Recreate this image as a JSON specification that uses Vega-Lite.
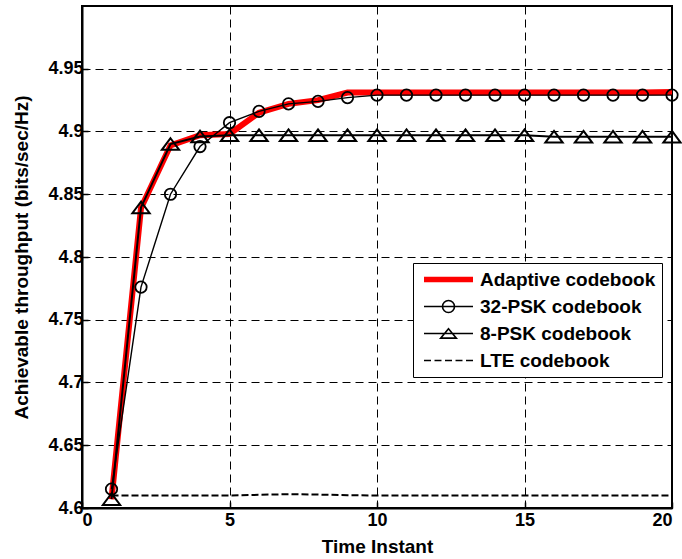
{
  "$schema": "https://vega.github.io/schema/vega-lite/v6.json",
  "width": 590,
  "height": 502,
  "autosize": "none",
  "padding": {"left": 82, "top": 6, "right": 10, "bottom": 51},
  "background": "white",
  "config": {
    "font": "Liberation Sans",
    "view": {"stroke": "black", "strokeWidth": 2},
    "axis": {
      "labelFont": "Liberation Sans", "labelFontWeight": "bold", "labelFontSize": 18, "labelColor": "black",
      "titleFont": "Liberation Sans", "titleFontWeight": "bold", "titleFontSize": 19, "titleColor": "black",
      "domainColor": "black", "domainWidth": 2,
      "tickColor": "black", "tickWidth": 1.5, "tickSize": -6,
      "gridColor": "black", "gridDash": [8, 5], "gridWidth": 1, "gridOpacity": 1
    }
  },
  "data": {
    "values": [
      {"s": "Adaptive codebook", "t": 1, "v": 4.607}, {"s": "Adaptive codebook", "t": 2, "v": 4.839}, {"s": "Adaptive codebook", "t": 3, "v": 4.889}, {"s": "Adaptive codebook", "t": 4, "v": 4.897}, {"s": "Adaptive codebook", "t": 5, "v": 4.898},
      {"s": "Adaptive codebook", "t": 6, "v": 4.915}, {"s": "Adaptive codebook", "t": 7, "v": 4.922}, {"s": "Adaptive codebook", "t": 8, "v": 4.925}, {"s": "Adaptive codebook", "t": 9, "v": 4.931}, {"s": "Adaptive codebook", "t": 10, "v": 4.931},
      {"s": "Adaptive codebook", "t": 11, "v": 4.931}, {"s": "Adaptive codebook", "t": 12, "v": 4.931}, {"s": "Adaptive codebook", "t": 13, "v": 4.931}, {"s": "Adaptive codebook", "t": 14, "v": 4.931}, {"s": "Adaptive codebook", "t": 15, "v": 4.931},
      {"s": "Adaptive codebook", "t": 16, "v": 4.931}, {"s": "Adaptive codebook", "t": 17, "v": 4.931}, {"s": "Adaptive codebook", "t": 18, "v": 4.931}, {"s": "Adaptive codebook", "t": 19, "v": 4.931}, {"s": "Adaptive codebook", "t": 20, "v": 4.9315},
      {"s": "LTE codebook", "t": 1, "v": 4.61}, {"s": "LTE codebook", "t": 2, "v": 4.61}, {"s": "LTE codebook", "t": 3, "v": 4.61}, {"s": "LTE codebook", "t": 4, "v": 4.61}, {"s": "LTE codebook", "t": 5, "v": 4.61},
      {"s": "LTE codebook", "t": 6, "v": 4.6105}, {"s": "LTE codebook", "t": 7, "v": 4.611}, {"s": "LTE codebook", "t": 8, "v": 4.6107}, {"s": "LTE codebook", "t": 9, "v": 4.6102}, {"s": "LTE codebook", "t": 10, "v": 4.61},
      {"s": "LTE codebook", "t": 11, "v": 4.61}, {"s": "LTE codebook", "t": 12, "v": 4.61}, {"s": "LTE codebook", "t": 13, "v": 4.61}, {"s": "LTE codebook", "t": 14, "v": 4.61}, {"s": "LTE codebook", "t": 15, "v": 4.61},
      {"s": "LTE codebook", "t": 16, "v": 4.61}, {"s": "LTE codebook", "t": 17, "v": 4.61}, {"s": "LTE codebook", "t": 18, "v": 4.61}, {"s": "LTE codebook", "t": 19, "v": 4.61}, {"s": "LTE codebook", "t": 20, "v": 4.61},
      {"s": "32-PSK codebook", "t": 1, "v": 4.615}, {"s": "32-PSK codebook", "t": 2, "v": 4.776}, {"s": "32-PSK codebook", "t": 3, "v": 4.85}, {"s": "32-PSK codebook", "t": 4, "v": 4.888}, {"s": "32-PSK codebook", "t": 5, "v": 4.907},
      {"s": "32-PSK codebook", "t": 6, "v": 4.916}, {"s": "32-PSK codebook", "t": 7, "v": 4.922}, {"s": "32-PSK codebook", "t": 8, "v": 4.924}, {"s": "32-PSK codebook", "t": 9, "v": 4.927}, {"s": "32-PSK codebook", "t": 10, "v": 4.929},
      {"s": "32-PSK codebook", "t": 11, "v": 4.929}, {"s": "32-PSK codebook", "t": 12, "v": 4.929}, {"s": "32-PSK codebook", "t": 13, "v": 4.929}, {"s": "32-PSK codebook", "t": 14, "v": 4.929}, {"s": "32-PSK codebook", "t": 15, "v": 4.929},
      {"s": "32-PSK codebook", "t": 16, "v": 4.929}, {"s": "32-PSK codebook", "t": 17, "v": 4.929}, {"s": "32-PSK codebook", "t": 18, "v": 4.929}, {"s": "32-PSK codebook", "t": 19, "v": 4.929}, {"s": "32-PSK codebook", "t": 20, "v": 4.929},
      {"s": "8-PSK codebook", "t": 1, "v": 4.607}, {"s": "8-PSK codebook", "t": 2, "v": 4.8395}, {"s": "8-PSK codebook", "t": 3, "v": 4.89}, {"s": "8-PSK codebook", "t": 4, "v": 4.896}, {"s": "8-PSK codebook", "t": 5, "v": 4.897},
      {"s": "8-PSK codebook", "t": 6, "v": 4.897}, {"s": "8-PSK codebook", "t": 7, "v": 4.897}, {"s": "8-PSK codebook", "t": 8, "v": 4.897}, {"s": "8-PSK codebook", "t": 9, "v": 4.897}, {"s": "8-PSK codebook", "t": 10, "v": 4.897},
      {"s": "8-PSK codebook", "t": 11, "v": 4.897}, {"s": "8-PSK codebook", "t": 12, "v": 4.897}, {"s": "8-PSK codebook", "t": 13, "v": 4.897}, {"s": "8-PSK codebook", "t": 14, "v": 4.897}, {"s": "8-PSK codebook", "t": 15, "v": 4.897},
      {"s": "8-PSK codebook", "t": 16, "v": 4.8958}, {"s": "8-PSK codebook", "t": 17, "v": 4.8958}, {"s": "8-PSK codebook", "t": 18, "v": 4.8958}, {"s": "8-PSK codebook", "t": 19, "v": 4.8958}, {"s": "8-PSK codebook", "t": 20, "v": 4.8958}
    ]
  },
  "encoding": {
    "x": {
      "field": "t", "type": "quantitative",
      "scale": {"domain": [0, 20], "nice": false},
      "axis": {"values": [0, 5, 10, 15, 20], "title": "Time Instant", "labelPadding": 9, "titlePadding": 8}
    },
    "y": {
      "field": "v", "type": "quantitative",
      "scale": {"domain": [4.6, 5.0], "nice": false, "zero": false},
      "axis": {"values": [4.6, 4.65, 4.7, 4.75, 4.8, 4.85, 4.9, 4.95], "format": ".2~f", "title": "Achievable throughput (bits/sec/Hz)", "labelPadding": 5, "titlePadding": 16}
    }
  },
  "layer": [
    {
      "transform": [{"filter": "datum.s === 'Adaptive codebook'"}],
      "mark": {"type": "line", "clip": true, "stroke": "#ff0000", "strokeWidth": 6},
      "encoding": {}
    },
    {
      "transform": [{"filter": "datum.s === 'LTE codebook'"}],
      "mark": {"type": "line", "clip": true, "stroke": "black", "strokeWidth": 2, "strokeDash": [7, 3]},
      "encoding": {}
    },
    {
      "transform": [{"filter": "datum.s === '32-PSK codebook'"}],
      "mark": {"type": "line", "clip": true, "stroke": "black", "strokeWidth": 1.4},
      "encoding": {}
    },
    {
      "transform": [{"filter": "datum.s === '8-PSK codebook'"}],
      "mark": {"type": "line", "clip": true, "stroke": "black", "strokeWidth": 2},
      "encoding": {}
    },
    {
      "transform": [{"filter": "datum.s === '32-PSK codebook'"}],
      "mark": {"type": "point", "shape": "circle", "size": 130, "filled": false, "stroke": "black", "strokeWidth": 1.8, "opacity": 1}
    },
    {
      "transform": [{"filter": "datum.s === '8-PSK codebook'"}],
      "mark": {"type": "point", "shape": "M0,-0.67L1,0.67L-1,0.67Z", "size": 300, "filled": false, "stroke": "black", "strokeWidth": 2, "opacity": 1}
    },
    {
      "transform": [{"filter": "datum.t === 1"}],
      "mark": {"type": "point", "filled": false, "opacity": 0},
      "encoding": {
        "stroke": {"field": "s", "type": "nominal", "scale": {"domain": ["Adaptive codebook", "32-PSK codebook", "8-PSK codebook", "LTE codebook"], "range": ["#ff0000", "#000000", "#000000", "#000000"]},
          "legend": {"orient": "none", "legendX": 331, "legendY": 257, "title": null, "labelFont": "Liberation Sans", "labelFontWeight": "bold", "labelFontSize": 19, "labelColor": "black", "labelLimit": 400, "strokeColor": "black", "fillColor": "white", "padding": 6, "symbolOffset": 4, "symbolSize": 2401, "symbolOpacity": 1, "symbolStrokeWidth": 1.6, "labelOffset": 6, "rowPadding": 6, "clipHeight": 21}},
        "shape": {"field": "s", "type": "nominal", "scale": {"domain": ["Adaptive codebook", "32-PSK codebook", "8-PSK codebook", "LTE codebook"], "range": ["M-1,-0.08H1M-1,-0.04H1M-1,0H1M-1,0.04H1M-1,0.08H1", "M-1,0H1M0.245,0A0.245,0.245,0,1,1,-0.245,0A0.245,0.245,0,1,1,0.245,0", "M-1,0H1M0,-0.19L0.32,0.19L-0.32,0.19Z", "M-1,0H-0.714M-0.571,0H-0.286M-0.143,0H0.143M0.286,0H0.571M0.714,0H1"]}}
      }
    }
  ]
}
